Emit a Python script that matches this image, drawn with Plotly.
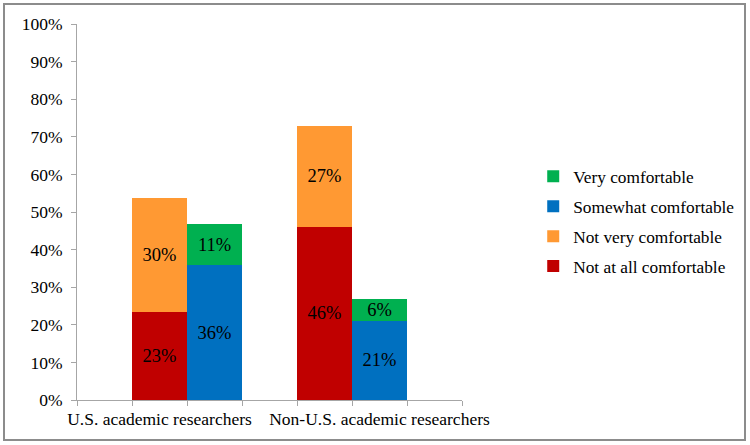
import plotly.graph_objects as go

# ── Data ──────────────────────────────────────────────────────────────────────
groups = ["U.S. academic researchers", "Non-U.S. academic researchers"]

not_at_all = [23.4, 46.1]
not_very = [30.2, 26.8]
somewhat = [35.9, 21.1]
very = [10.9, 5.7]

# slot positions: discomfort bar, comfort bar per group (Excel-style blank slots)
disc_x = [1, 4]
comf_x = [2, 5]
label_x = [1, 5]

yticks = list(range(0, 101, 10))

# ── Style ─────────────────────────────────────────────────────────────────────
C = {
    "red": "#C00000",
    "orange": "#FF9933",
    "blue": "#0070C0",
    "green": "#00B050",
    "axis": "#A6A6A6",
    "frame": "#8C8C8C",
    "ink": "#000000",
}
FONT = "'Liberation Serif', 'Times New Roman', serif"

series = [
    ("Not at all comfortable", disc_x, not_at_all, C["red"]),
    ("Not very comfortable", disc_x, not_very, C["orange"]),
    ("Somewhat comfortable", comf_x, somewhat, C["blue"]),
    ("Very comfortable", comf_x, very, C["green"]),
]

fig = go.Figure()
for i, (name, xs, ys, col) in enumerate(series):
    fig.add_trace(go.Bar(
        x=xs, y=ys, name=name, width=1,
        legendgroup=name, legendrank=len(series) - i,
        marker=dict(color=col, line_width=0),
        texttemplate="%{y:.0f}%",
        textposition="inside",
        insidetextanchor="middle",
        constraintext="none",
        textangle=0,
        textfont=dict(family=FONT, size=18.5, color=C["ink"]),
    ))

fig.update_layout(
    barmode="stack",
    width=750, height=445,
    paper_bgcolor="white", plot_bgcolor="white",
    font=dict(family=FONT, size=17, color=C["ink"]),
    margin=dict(l=77, r=288, t=24, b=45, autoexpand=False),
    showlegend=True,
    legend=dict(
        x=1.185, y=0.475, xanchor="left", yanchor="middle",
        traceorder="grouped", tracegroupgap=4.5,
        font=dict(family=FONT, size=17.3, color=C["ink"]),
        itemwidth=30,
    ),
    shapes=[dict(
        type="rect", xref="paper", yref="paper",
        x0=(4 - 77) / 385, x1=(745 - 77) / 385,
        y0=(400 - 440) / 376, y1=(400 - 4) / 376,
        line=dict(color=C["frame"], width=2),
    )],
)

fig.update_xaxes(
    range=[-0.5, 6.5],
    tickmode="array", tickvals=label_x, ticktext=groups,
    ticks="", showline=True, linecolor=C["axis"], linewidth=1,
    showgrid=False, zeroline=False, ticklabelstandoff=3,
    tickfont=dict(family=FONT, size=17.5, color=C["ink"]),
    minor=dict(tickmode="array", tickvals=[i - 0.5 for i in range(8)],
               ticks="outside", ticklen=5, tickcolor=C["axis"], showgrid=False),
)
fig.update_yaxes(
    range=[0, 100],
    tickmode="array", tickvals=yticks, ticktext=[f"{v}%" for v in yticks],
    ticks="outside", ticklen=5, tickcolor=C["axis"],
    showline=True, linecolor=C["axis"], linewidth=1,
    showgrid=False, zeroline=False, ticklabelstandoff=5,
    tickfont=dict(family=FONT, size=17.5, color=C["ink"]),
)

fig.write_html("out.html", config={"displayModeBar": False},
               post_script="document.body.style.margin='0';")
